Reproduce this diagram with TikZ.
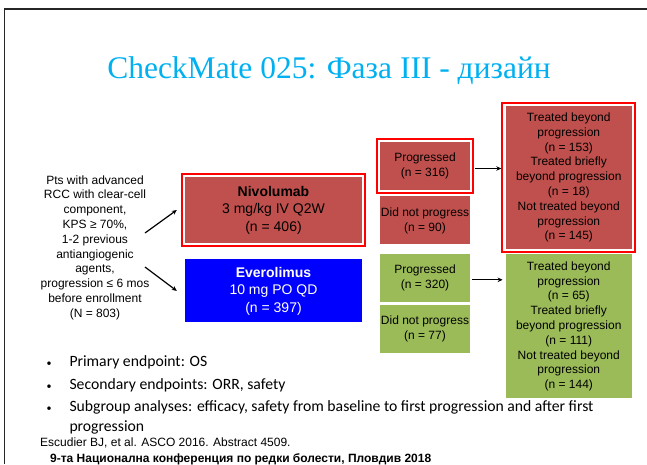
\documentclass[tikz,border=0pt]{standalone}
\usepackage{fontspec}
\setmainfont{Liberation Sans}
\newfontfamily\titlefont{Liberation Serif}
\newfontfamily\bulletfont{Carlito}
\usetikzlibrary{arrows.meta,positioning,fit}

\definecolor{armred}{RGB}{192,80,77}
\definecolor{armgreen}{RGB}{155,187,89}
\definecolor{armblue}{RGB}{0,0,255}
\definecolor{titleblue}{RGB}{0,176,240}

\newcommand{\dotmark}{\llap{{\fontsize{10}{10}\selectfont •}\hspace{18pt}}}

\begin{document}
\begin{tikzpicture}[x=1pt,y=-1pt,node distance=6pt,>={Stealth[length=5pt,width=4.5pt]}]
	\tikzstyle{arm}=[inner sep=0pt,align=center,font=\fontsize{14}{17.5}\selectfont,minimum width=177pt]
	\tikzstyle{small}=[inner sep=0pt,align=center,font=\fontsize{12}{15}\selectfont,minimum width=90pt,minimum height=48pt]
	\tikzstyle{big}=[inner sep=0pt,align=center,font=\fontsize{12}{14.8}\selectfont,minimum width=126.5pt]
	\tikzstyle{redframe}=[draw=red,line width=1.7pt,inner sep=3pt]
	\tikzstyle{arr}=[->,line width=1.2pt]
	\tikzstyle{bullet}=[anchor=base west,inner sep=0pt,font=\bulletfont\fontsize{15.7}{19.3}\selectfont]
	\tikzstyle{note}=[anchor=base west,inner sep=0pt,font=\fontsize{12}{14}\selectfont]

	\useasboundingbox (0,0) rectangle (647,464);
	\draw[black!85,line width=1.6pt] (647,9) -- (4.5,9) -- (4.5,464);

	\node[text=titleblue,font=\titlefont\fontsize{31.5}{38}\selectfont,anchor=base] (title) at (329,78) {CheckMate 025: Фаза III - дизайн};

	% patients
	\node[align=center,font=\fontsize{12}{14.8}\selectfont] (pts) at (95,247.5) {Pts with advanced\\RCC with clear-cell\\component,\\KPS ≥ 70\%,\\1-2 previous\\antiangiogenic\\agents,\\progression ≤ 6 mos\\before enrollment\\(N = 803)};

	% arms
	\node[arm,fill=armred,minimum height=66pt] (niv) at (273.5,210) {\textbf{Nivolumab}\\3 mg/kg IV Q2W\\(n = 406)};
	\node[arm,fill=armblue,text=white,minimum height=63pt,below=16pt of niv] (evr) {\textbf{Everolimus}\\10 mg PO QD\\(n = 397)};

	% progression
	\node[small,fill=armred] (progR) at (425,166) {Progressed\\(n = 316)};
	\node[small,fill=armred,below=of progR] (dnpR) {Did not progress\\(n = 90)};
	\node[small,fill=armgreen,below=9pt of dnpR] (progG) {Progressed\\(n = 320)};
	\node[small,fill=armgreen,below=3pt of progG] (dnpG) {Did not progress\\(n = 77)};

	% beyond progression
	\node[big,fill=armred,minimum height=143pt] (bigR) at (568.75,177.5) {Treated beyond\\progression\\(n = 153)\\Treated briefly\\beyond progression\\(n = 18)\\Not treated beyond\\progression\\(n = 145)};
	\node[big,fill=armgreen,minimum height=144pt,below=5pt of bigR] (bigG) {Treated beyond\\progression\\(n = 65)\\Treated briefly\\beyond progression\\(n = 111)\\Not treated beyond\\progression\\(n = 144)};

	% frames
	\node[redframe,fit=(niv)] (nivF) {};
	\node[redframe,fit=(progR)] (progRF) {};
	\node[redframe,fit=(bigR)] (bigRF) {};

	% arrows
	\coordinate (t1) at (145,233);
	\coordinate (t2) at (145,267);
	\coordinate (p1) at ([xshift=5pt,yshift=-2.5pt]progR.east);
	\coordinate (p2) at ([xshift=2pt,yshift=-2pt]progG.east);
	\draw[arr] (t1) -- ([xshift=-8pt]niv.west);
	\draw[arr] (t2) -- ([xshift=-8pt]evr.west);
	\draw[arr,shorten >=4pt] (p1) -- (p1 -| bigR.west);
	\draw[arr,shorten >=2.7pt] (p2) -- (p2 -| bigG.west);

	% endpoints
	\node[bullet] (b1) at (69.3,366.5) {\dotmark Primary endpoint: OS};
	\node[bullet] (b2) at (69.3,389) {\dotmark Secondary endpoints: ORR, safety};
	\node[bullet] (b3) at (69.3,411.5) {\dotmark Subgroup analyses: efficacy, safety from baseline to first progression and after first};
	\node[bullet] (b3a) at (69.3,431) {progression};

	\node[note] (ref) at (40,446) {Escudier BJ, et al. ASCO 2016. Abstract 4509.};
	\node[note,font=\bfseries\fontsize{12}{14}\selectfont] (conf) at (50,462) {9-та Национална конференция по редки болести, Пловдив 2018};
\end{tikzpicture}
\end{document}
